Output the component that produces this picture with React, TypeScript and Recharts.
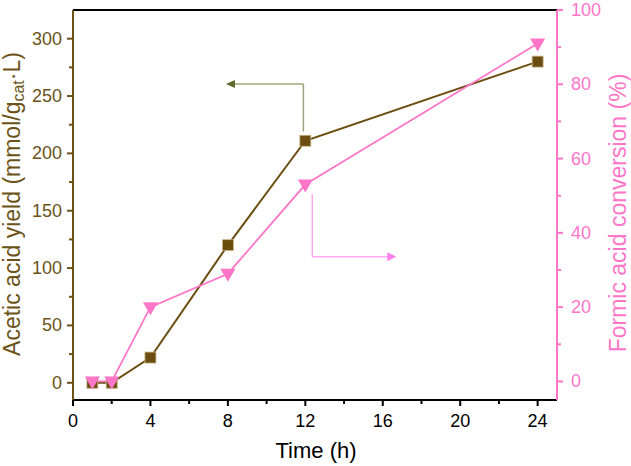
import React from "react";
import { LineChart, Line, XAxis, YAxis, ReferenceLine, ReferenceDot } from "recharts";

const times = [1, 2, 4, 8, 12, 24];
const aceticYield = [0, 0, 22, 120, 211, 280];
const formicConversion = [0, 0, 20, 29, 53, 91];

const xTicks = [0, 2, 4, 6, 8, 10, 12, 14, 16, 18, 20, 22, 24];
const leftTicks = [0, 25, 50, 75, 100, 125, 150, 175, 200, 225, 250, 275, 300];
const rightTicks = [0, 10, 20, 30, 40, 50, 60, 70, 80, 90, 100];

// annotation arrows (data units)
const leftArrow = { x: 11.9, yFrom: 219, yCorner: 260.5, xTip: 7.9 };
const rightArrow = { x: 12.36, yFrom: 50.5, yCorner: 33.6, xTip: 16.7 };

const data = times.map((t, i) => ({ t, acetic: aceticYield[i], formic: formicConversion[i] }));

const BROWN = "#6b4d10";
const BROWN_AXIS = "#6b5318";
const PINK = "#ff76c8";
const FONT = "'Liberation Sans', Arial, sans-serif";

const XTick = (p: any) => {
  const v = p.payload.value;
  const major = v % 4 === 0;
  return (
    <g>
      <line x1={p.x} x2={p.x} y1={p.y} y2={p.y + (major ? 6 : 4)} stroke="#000" strokeWidth={2} />
      {major && (
        <text x={p.x} y={p.y + 21} textAnchor="middle" dominantBaseline="central" fontSize={18} fontFamily={FONT} fill="#000">
          {v}
        </text>
      )}
    </g>
  );
};

const LeftTick = (p: any) => {
  const v = p.payload.value;
  const major = v % 50 === 0;
  return (
    <g>
      <line x1={p.x} x2={p.x - (major ? 6 : 4)} y1={p.y} y2={p.y} stroke={BROWN_AXIS} strokeWidth={2} />
      {major && (
        <text x={p.x - 11} y={p.y} textAnchor="end" dominantBaseline="central" fontSize={18} fontFamily={FONT} fill={BROWN_AXIS}>
          {v}
        </text>
      )}
    </g>
  );
};

const RightTick = (p: any) => {
  const v = p.payload.value;
  const major = v % 20 === 0;
  return (
    <g>
      <line x1={p.x} x2={p.x + (major ? 6 : 4)} y1={p.y} y2={p.y} stroke={PINK} strokeWidth={2} />
      {major && (
        <text x={p.x + 14} y={p.y} textAnchor="start" dominantBaseline="central" fontSize={18} fontFamily={FONT} fill={PINK}>
          {v}
        </text>
      )}
    </g>
  );
};

const SquareDot = (p: any) => {
  if (p.cx == null || p.cy == null) return <g key={p.index} />;
  return (
    <rect key={p.index} x={p.cx - 5.5} y={p.cy - 5.5} width={11} height={11} fill={BROWN} stroke="#c9b98c" strokeWidth={0.8} />
  );
};

const TriDot = (p: any) => {
  if (p.cx == null || p.cy == null) return <g key={p.index} />;
  const { cx, cy } = p;
  return (
    <polygon key={p.index} points={`${cx - 7.5},${cy - 5} ${cx + 7.5},${cy - 5} ${cx},${cy + 8}`} fill={PINK} stroke="none" />
  );
};

const LeftArrowHead = (p: any) => {
  const { cx, cy } = p;
  return <polygon points={`${cx},${cy} ${cx + 9},${cy - 4} ${cx + 9},${cy + 4}`} fill="#5f6a2c" />;
};

const RightArrowHead = (p: any) => {
  const { cx, cy } = p;
  return <polygon points={`${cx},${cy} ${cx - 9},${cy - 4.5} ${cx - 9},${cy + 4.5}`} fill="#ff80ea" />;
};

const LeftLabel = (props: any) => {
  const vb = props.viewBox || { x: 0, y: 10, width: 73, height: 390 };
  const cx = vb.x + 12;
  const cy = vb.y + vb.height / 2 - 1;
  return (
    <text
      x={cx}
      y={cy}
      transform={`rotate(-90, ${cx}, ${cy})`}
      textAnchor="middle"
      dominantBaseline="central"
      fontSize={23}
      fontFamily={FONT}
      fill={BROWN_AXIS}
    >
      Acetic acid yield (mmol/g
      <tspan fontSize={16} dy={6}>cat</tspan>
      <tspan fontSize={23} dy={-6}>·L)</tspan>
    </text>
  );
};

const RightLabel = (props: any) => {
  const vb = props.viewBox || { x: 557, y: 10, width: 74, height: 390 };
  const cx = vb.x + 61;
  const cy = vb.y + vb.height / 2 + 8;
  return (
    <text
      x={cx}
      y={cy}
      transform={`rotate(-90, ${cx}, ${cy})`}
      textAnchor="middle"
      dominantBaseline="central"
      fontSize={23}
      fontFamily={FONT}
      fill={PINK}
    >
      Formic acid conversion (%)
    </text>
  );
};

const BottomLabel = (props: any) => {
  const vb = props.viewBox || { x: 73, y: 400, width: 484, height: 66 };
  const cx = vb.x + vb.width / 2 + 1;
  return (
    <text x={cx} y={vb.y + 50} textAnchor="middle" dominantBaseline="central" fontSize={22} fontFamily={FONT} fill="#000">
      Time (h)
    </text>
  );
};

export default function App() {
  return (
    <div style={{ position: "absolute", left: 0, top: 0, width: 631, height: 466, background: "#fff" }}>
      <LineChart width={631} height={466} data={data} margin={{ top: 10, right: 0, bottom: 0, left: 0 }}>
        <XAxis
          dataKey="t"
          type="number"
          domain={[0, 25]}
          ticks={xTicks}
          interval={0}
          height={66}
          tickSize={0}
          tickMargin={0}
          tickLine={false}
          axisLine={{ stroke: "#000", strokeWidth: 2 }}
          tick={<XTick />}
          label={{ content: BottomLabel }}
        />
        <YAxis
          yAxisId="left"
          orientation="left"
          domain={[-15, 325]}
          allowDataOverflow
          ticks={leftTicks}
          interval={0}
          width={73}
          tickSize={0}
          tickMargin={0}
          tickLine={false}
          axisLine={{ stroke: BROWN_AXIS, strokeWidth: 2 }}
          tick={<LeftTick />}
          label={{ content: LeftLabel }}
        />
        <YAxis
          yAxisId="right"
          orientation="right"
          domain={[-5, 100]}
          allowDataOverflow
          ticks={rightTicks}
          interval={0}
          width={74}
          tickSize={0}
          tickMargin={0}
          tickLine={false}
          axisLine={{ stroke: PINK, strokeWidth: 2 }}
          tick={<RightTick />}
          label={{ content: RightLabel }}
        />
        <ReferenceLine yAxisId="left" y={325} stroke="#000" strokeWidth={2} ifOverflow="visible" />

        <ReferenceLine
          yAxisId="left"
          segment={[{ x: leftArrow.x, y: leftArrow.yFrom }, { x: leftArrow.x, y: leftArrow.yCorner }]}
          stroke="#a3a27e"
          strokeWidth={1.5}
        />
        <ReferenceLine
          yAxisId="left"
          segment={[{ x: leftArrow.x, y: leftArrow.yCorner }, { x: leftArrow.xTip + 0.3, y: leftArrow.yCorner }]}
          stroke="#a3a27e"
          strokeWidth={1.5}
        />
        <ReferenceDot yAxisId="left" x={leftArrow.xTip} y={leftArrow.yCorner} r={0} shape={LeftArrowHead} />

        <ReferenceLine
          yAxisId="right"
          segment={[{ x: rightArrow.x, y: rightArrow.yFrom }, { x: rightArrow.x, y: rightArrow.yCorner }]}
          stroke="#ffaaf0"
          strokeWidth={1.5}
        />
        <ReferenceLine
          yAxisId="right"
          segment={[{ x: rightArrow.x, y: rightArrow.yCorner }, { x: rightArrow.xTip - 0.3, y: rightArrow.yCorner }]}
          stroke="#ffaaf0"
          strokeWidth={1.5}
        />
        <ReferenceDot yAxisId="right" x={rightArrow.xTip} y={rightArrow.yCorner} r={0} shape={RightArrowHead} />

        <Line
          yAxisId="left"
          dataKey="acetic"
          stroke={BROWN}
          strokeWidth={2}
          dot={SquareDot}
          activeDot={false}
          isAnimationActive={false}
        />
        <Line
          yAxisId="right"
          dataKey="formic"
          stroke={PINK}
          strokeWidth={1.8}
          dot={TriDot}
          activeDot={false}
          isAnimationActive={false}
        />
      </LineChart>
    </div>
  );
}
